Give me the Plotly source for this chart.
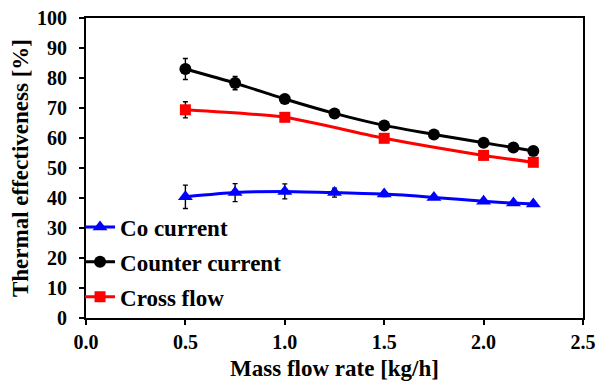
import plotly.graph_objects as go

x_full = [0.5, 0.75, 1.0, 1.25, 1.5, 1.75, 2.0, 2.15, 2.25]
co_current = [40.4, 41.8, 42.2, 41.8, 41.3, 40.2, 38.9, 38.3, 38.0]
co_err = [3.9, 3.0, 2.5, 1.5, 0.8, 0.6, 0.5, 0.5, 0.5]
counter_current = [83.0, 78.3, 73.0, 68.2, 64.2, 61.2, 58.4, 56.8, 55.7]
counter_err = [3.5, 2.2, 1.0, 0.6, 0.5, 0.5, 0.5, 0.5, 0.5]
x_cross = [0.5, 1.0, 1.5, 2.0, 2.25]
cross_flow = [69.4, 66.9, 59.9, 54.2, 51.9]
cross_err = [2.7, 0.8, 0.6, 0.5, 0.5]

x_ticks = [0.0, 0.5, 1.0, 1.5, 2.0, 2.5]
y_ticks = [0, 10, 20, 30, 40, 50, 60, 70, 80, 90, 100]

FONT = "Liberation Serif"

fig = go.Figure()

def add(name, x, y, err, color, symbol, size, group):
    fig.add_trace(go.Scatter(
        x=x, y=y, name=f"<b>{name}</b>", mode="lines+markers",
        line=dict(color=color, width=3, shape="spline", smoothing=0.6),
        marker=dict(color=color, symbol=symbol, size=size),
        error_y=dict(type="data", array=err, color="black", thickness=1.4, width=2.5),
        legendgroup=group,
    ))

add("Co current", x_full, co_current, co_err, "#0000FF", "triangle-up", 13, "a")
add("Counter current", x_full, counter_current, counter_err, "#000000", "circle", 12, "b")
add("Cross flow", x_cross, cross_flow, cross_err, "#FF0000", "square", 11, "c")

axis_common = dict(
    showline=True, linecolor="black", linewidth=2, mirror=True,
    ticks="outside", ticklen=5, tickwidth=1.5, tickcolor="black",
    showgrid=False, zeroline=False, automargin=False,
    ticklabeloverflow="allow",
    tickfont=dict(family=FONT, size=20, color="black"),
)

# page body has an 8px default margin, so the figure is sized to fit the window
fig.update_layout(
    width=598, height=375,
    margin=dict(l=78, r=23, t=10, b=65),
    paper_bgcolor="white", plot_bgcolor="white",
    font=dict(family=FONT, color="black"),
    xaxis=dict(range=[0, 2.5], tickvals=x_ticks, ticktext=[f"<b>{v:.1f}</b>" for v in x_ticks],
               ticklabelstandoff=0,
               title=dict(text="<b>Mass flow rate [kg/h]</b>", font=dict(family=FONT, size=23), standoff=8),
               **axis_common),
    yaxis=dict(range=[0, 100], tickvals=y_ticks, ticktext=[f"<b>{v}</b>" for v in y_ticks],
               ticklabelstandoff=8,
               title=dict(text="<b>Thermal effectiveness [%]</b>", font=dict(family=FONT, size=23), standoff=7),
               **axis_common),
    legend=dict(x=-0.012, y=0.375, xanchor="left", yanchor="top",
                font=dict(family=FONT, size=23, color="black"),
                bgcolor="rgba(0,0,0,0)", itemwidth=30, tracegroupgap=2,
                traceorder="grouped"),
    showlegend=True,
)

fig.write_html("out.html")
